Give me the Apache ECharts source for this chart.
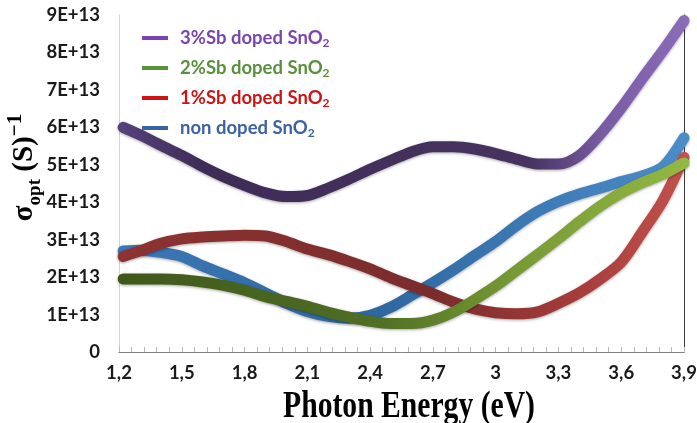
<!DOCTYPE html>
<html>
<head>
    <meta charset="UTF-8">
    <style>
        html, body { margin: 0; padding: 0; background: #fff; }
        #chart { width: 697px; height: 423px; }
    </style>
</head>
<body>
<div id="chart"></div>
<script src="https://cdn.jsdelivr.net/npm/echarts@6/dist/echarts.min.js"></script>
<script>
    // photon energy (eV) and sigma_opt, in units of 1E+13
    var UNIT = 1e13;
    var energy = [1.22, 1.3, 1.4, 1.5, 1.6, 1.7, 1.8, 1.9, 2.0, 2.1, 2.2, 2.3, 2.4, 2.5,
                  2.6, 2.7, 2.8, 2.9, 3.0, 3.1, 3.2, 3.3, 3.4, 3.5, 3.6, 3.7, 3.8, 3.9];
    var sb3 = [6.00, 5.80, 5.52, 5.25, 4.95, 4.68, 4.45, 4.25, 4.15, 4.18, 4.38, 4.62, 4.88, 5.12,
               5.35, 5.48, 5.48, 5.42, 5.30, 5.15, 5.02, 5.02, 5.25, 5.82, 6.52, 7.30, 8.05, 8.85];
    var sb2 = [1.95, 1.95, 1.95, 1.93, 1.87, 1.78, 1.65, 1.48, 1.35, 1.22, 1.06, 0.93, 0.82, 0.76,
               0.76, 0.85, 1.07, 1.40, 1.76, 2.18, 2.60, 3.03, 3.48, 3.90, 4.25, 4.52, 4.75, 5.05];
    var sb1 = [2.55, 2.70, 2.90, 3.02, 3.07, 3.10, 3.12, 3.10, 2.95, 2.75, 2.60, 2.42, 2.22, 1.98,
               1.77, 1.56, 1.33, 1.15, 1.05, 1.02, 1.07, 1.30, 1.58, 1.95, 2.40, 3.20, 4.05, 5.20];
    var undoped = [2.70, 2.72, 2.66, 2.55, 2.30, 2.08, 1.85, 1.58, 1.30, 1.08, 0.95, 0.90, 0.98, 1.20,
                   1.52, 1.85, 2.20, 2.58, 2.95, 3.38, 3.75, 4.02, 4.22, 4.38, 4.55, 4.70, 4.95, 5.72];
    var xTicks = [1.2, 1.5, 1.8, 2.1, 2.4, 2.7, 3.0, 3.3, 3.6, 3.9];

    var names = ['3%Sb doped SnO', '2%Sb doped SnO', '1%Sb doped SnO', 'non doped SnO'];
    var legendColors = ['#7a45b0', '#58903c', '#cc1515', '#3b62a8'];

    function pairs(ys) {
        return energy.map(function (x, i) { return [x, ys[i] * UNIT]; });
    }
    function grad(stops) {
        return new echarts.graphic.LinearGradient(0, 0, 1, 0, stops.map(function (s) {
            return { offset: s[0], color: s[1] };
        }));
    }
    function curve(name, ys, stops) {
        return {
            name: name,
            type: 'line',
            data: pairs(ys),
            smooth: 0.3,
            showSymbol: false,
            lineStyle: {
                width: 11,
                cap: 'round',
                color: grad(stops),
                shadowColor: 'rgba(0,0,0,0.35)',
                shadowBlur: 3,
                shadowOffsetY: 1
            },
            itemStyle: { color: legendColors[names.indexOf(name)] }
        };
    }

    var legendData = names.map(function (n, i) {
        return {
            name: n,
            icon: 'rect',
            itemStyle: { color: legendColors[i] },
            textStyle: {
                color: legendColors[i],
                rich: { sub: { color: legendColors[i] } }
            }
        };
    });

    var chart = echarts.init(document.getElementById('chart'));
    chart.setOption({
        animation: false,
        backgroundColor: '#fff',
        grid: { left: 119, right: 13, top: 15, bottom: 71, outerBoundsMode: 'none' },
        legend: {
            orient: 'vertical',
            left: 137,
            top: 22,
            itemWidth: 26,
            itemHeight: 4,
            itemGap: 8,
            data: legendData,
            formatter: function (n) { return n + '{sub|2}'; },
            textStyle: {
                fontFamily: 'Lato',
                fontWeight: 'bold',
                fontSize: 18.5,
                lineHeight: 22,
                padding: [0, 0, 0, 7],
                rich: {
                    sub: { fontFamily: 'Lato', fontWeight: 'bold', fontSize: 12, lineHeight: 12, verticalAlign: 'bottom' }
                }
            }
        },
        // x axis title: tall, condensed serif as in the original figure
        graphic: [{
            type: 'text',
            x: 409,
            y: 426,
            scaleX: 0.78,
            silent: true,
            style: {
                text: 'Photon Energy (eV)',
                font: 'bold 38px "Liberation Serif"',
                fill: '#000',
                align: 'center',
                verticalAlign: 'bottom'
            }
        }],
        xAxis: [{
            type: 'value',
            min: 1.2,
            max: 3.9,
            interval: 0.3,
            axisLine: { lineStyle: { color: '#c8c8c8', width: 1 } },
            axisTick: { inside: true, length: 5, lineStyle: { color: '#b8b8b8' } },
            minorTick: { show: true, splitNumber: 5, length: 5, lineStyle: { color: '#b8b8b8' } },
            axisLabel: {
                margin: 12,
                fontFamily: 'Lato',
                fontWeight: 'bold',
                fontSize: 18.5,
                color: '#1a1a1a',
                formatter: function (v) {
                    var r = Math.round(v * 10) / 10;
                    return xTicks.indexOf(r) >= 0 ? String(r).replace('.', ',') : '';
                }
            },
            splitLine: { show: false }
        }, {
            type: 'value',
            position: 'top',
            min: 1.2,
            max: 3.9,
            axisLine: { show: true, lineStyle: { color: '#808080' } },
            axisTick: { show: false },
            axisLabel: { show: false },
            splitLine: { show: false }
        }],
        yAxis: [{
            type: 'value',
            min: 0,
            max: 9 * UNIT,
            interval: UNIT,
            name: '{b|σ}{sub|opt}{b| (S)}{sup|−1}',
            nameLocation: 'middle',
            nameRotate: 90,
            nameGap: 94,
            nameMoveOverlap: false,
            nameTextStyle: {
                color: '#000',
                verticalAlign: 'middle',
                padding: [0, 0, 0, 32],
                rich: {
                    b: { fontFamily: 'Liberation Serif', fontWeight: 'bold', fontSize: 29, lineHeight: 40, verticalAlign: 'middle', color: '#000' },
                    sub: { fontFamily: 'Liberation Serif', fontWeight: 'bold', fontSize: 19, lineHeight: 18, verticalAlign: 'bottom', color: '#000' },
                    sup: { fontFamily: 'Liberation Serif', fontWeight: 'bold', fontSize: 21, lineHeight: 20, verticalAlign: 'top', color: '#000' }
                }
            },
            axisLine: { show: true, lineStyle: { color: '#d4d4d4' } },
            axisTick: { show: false },
            axisLabel: {
                margin: 19,
                fontFamily: 'Lato',
                fontWeight: 'bold',
                fontSize: 18.5,
                color: '#1a1a1a',
                formatter: function (v) {
                    return v === 0 ? '0' : Math.round(v / UNIT) + 'E+13';
                }
            },
            splitLine: { show: false }
        }, {
            type: 'value',
            position: 'right',
            min: 0,
            max: 9 * UNIT,
            axisLine: { show: true, lineStyle: { color: '#3a3a3a' } },
            axisTick: { show: false },
            axisLabel: { show: false },
            splitLine: { show: false }
        }],
        series: [
            curve(names[3], undoped, [[0, '#3a78b6'], [0.45, '#2f67a0'], [1, '#4a8dc9']]),
            curve(names[2], sb1, [[0, '#8e3232'], [0.55, '#7a2c2c'], [0.8, '#a53c3a'], [1, '#c4524e']]),
            curve(names[1], sb2, [[0, '#3e581b'], [0.45, '#506e24'], [0.7, '#779b34'], [1, '#93b843']]),
            curve(names[0], sb3, [[0, '#57417c'], [0.15, '#3e2c57'], [0.72, '#46335f'], [0.85, '#7a5ca5'], [1, '#8b6cb8']])
        ]
    });
</script>
</body>
</html>
